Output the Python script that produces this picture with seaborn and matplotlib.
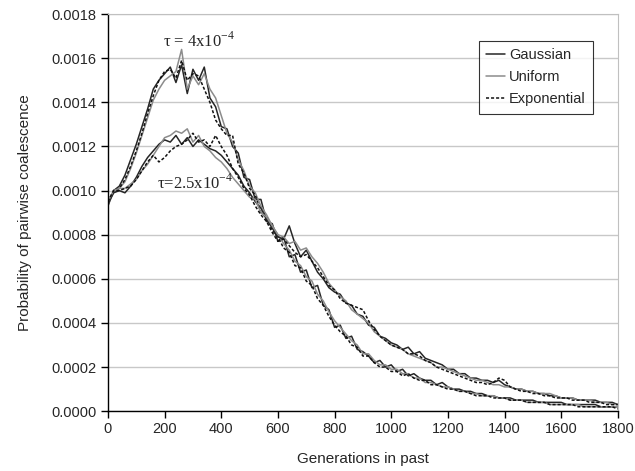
import numpy as np
import pandas as pd
import matplotlib
matplotlib.use('Agg')
import matplotlib.pyplot as plt
import seaborn as sns

# generations sampled every 20, values read in units of 1e-4
GENERATIONS = list(range(0, 1801, 20))

GAUSS_TAU4 = [9.3, 10.0, 10.2, 10.7, 11.4, 12.1, 12.9, 13.7, 14.6, 15.0, 15.3, 15.6, 14.9, 15.7, 14.4, 15.5, 15.0, 15.6, 14.2, 13.8,
              12.9, 12.8, 12.0, 11.7, 10.6, 10.5, 9.6, 9.6, 8.6, 8.5, 7.7, 7.9, 7.0, 7.1, 6.3, 6.4, 5.6, 5.7, 4.8, 4.6,
              3.8, 3.9, 3.3, 3.4, 2.8, 2.7, 2.5, 2.2, 2.3, 2.0, 2.1, 1.8, 1.9, 1.6, 1.7, 1.5, 1.4, 1.4, 1.2, 1.3,
              1.1, 1.0, 1.0, 0.9, 0.9, 0.8, 0.8, 0.7, 0.7, 0.6, 0.6, 0.6, 0.5, 0.5, 0.5, 0.5, 0.4, 0.4, 0.4, 0.4,
              0.4, 0.3, 0.3, 0.3, 0.3, 0.3, 0.3, 0.2, 0.2, 0.2, 0.2]
UNIF_TAU4 = [9.4, 9.9, 10.1, 10.4, 11.0, 11.7, 12.5, 13.3, 14.1, 14.6, 15.0, 15.2, 15.4, 16.4, 14.6, 15.2, 14.8, 15.3, 14.6, 14.2,
             13.4, 12.6, 12.2, 11.4, 10.9, 10.2, 9.9, 9.3, 8.9, 8.4, 8.0, 7.6, 7.3, 6.8, 6.6, 6.1, 5.9, 5.3, 5.0, 4.5,
             4.1, 3.8, 3.5, 3.2, 3.0, 2.6, 2.6, 2.3, 2.1, 2.1, 1.9, 1.9, 1.7, 1.7, 1.5, 1.5, 1.3, 1.3, 1.2, 1.1,
             1.1, 1.0, 0.9, 0.9, 0.8, 0.8, 0.7, 0.7, 0.7, 0.6, 0.6, 0.5, 0.5, 0.5, 0.4, 0.4, 0.4, 0.4, 0.3, 0.3,
             0.3, 0.3, 0.3, 0.3, 0.2, 0.2, 0.2, 0.2, 0.2, 0.2, 0.2]
EXPO_TAU4 = [9.5, 10.0, 10.1, 10.5, 11.1, 11.8, 12.6, 13.5, 14.3, 15.0, 15.4, 15.5, 15.1, 15.9, 15.0, 15.3, 15.2, 14.6, 14.0, 13.2,
             12.8, 12.5, 12.5, 11.2, 10.8, 10.1, 9.8, 9.0, 8.8, 8.2, 7.9, 7.4, 7.2, 6.6, 6.5, 5.9, 5.7, 5.1, 4.8, 4.3,
             3.9, 3.6, 3.4, 3.0, 2.9, 2.5, 2.5, 2.2, 2.0, 2.0, 1.8, 1.8, 1.6, 1.7, 1.5, 1.4, 1.4, 1.2, 1.2, 1.1,
             1.0, 1.0, 0.9, 0.9, 0.8, 0.7, 0.7, 0.7, 0.6, 0.6, 0.6, 0.5, 0.5, 0.5, 0.4, 0.4, 0.4, 0.4, 0.3, 0.3,
             0.3, 0.3, 0.3, 0.2, 0.2, 0.2, 0.2, 0.2, 0.2, 0.2, 0.1]
GAUSS_TAU25 = [9.4, 9.9, 10.0, 9.9, 10.2, 10.6, 11.1, 11.5, 11.8, 12.1, 12.3, 12.2, 12.5, 12.1, 12.4, 12.0, 12.3, 12.1, 11.9, 11.8,
               11.6, 11.3, 11.0, 10.7, 10.2, 9.9, 9.5, 9.2, 8.7, 8.3, 7.9, 7.8, 8.4, 7.6, 7.0, 7.3, 6.8, 6.3, 6.0, 5.6,
               5.4, 5.3, 4.9, 4.8, 4.4, 4.3, 3.9, 3.8, 3.4, 3.3, 3.1, 3.0, 2.8, 2.9, 2.6, 2.7, 2.4, 2.3, 2.2, 2.1,
               1.9, 1.9, 1.7, 1.7, 1.5, 1.5, 1.4, 1.4, 1.3, 1.4, 1.2, 1.1, 1.0, 1.0, 0.9, 0.9, 0.8, 0.8, 0.7, 0.7,
               0.6, 0.6, 0.6, 0.5, 0.5, 0.5, 0.5, 0.4, 0.4, 0.4, 0.3]
UNIF_TAU25 = [9.5, 10.0, 10.1, 10.1, 10.3, 10.5, 10.9, 11.2, 11.6, 12.0, 12.4, 12.5, 12.7, 12.6, 12.8, 12.2, 12.5, 12.0, 11.8, 11.5,
              11.3, 11.0, 10.6, 10.3, 10.0, 9.7, 9.6, 9.0, 8.8, 8.4, 8.0, 7.9, 7.6, 7.7, 7.3, 7.4, 7.0, 6.7, 6.3, 5.8,
              5.5, 5.2, 5.0, 4.6, 4.4, 4.2, 4.0, 3.6, 3.4, 3.2, 3.0, 2.9, 2.8, 2.6, 2.5, 2.4, 2.3, 2.2, 2.0, 2.0,
              1.9, 1.8, 1.7, 1.6, 1.5, 1.4, 1.4, 1.3, 1.2, 1.2, 1.1, 1.1, 1.0, 1.0, 0.9, 0.9, 0.8, 0.8, 0.8, 0.7,
              0.6, 0.6, 0.6, 0.5, 0.5, 0.5, 0.4, 0.4, 0.4, 0.3, 0.3]
EXPO_TAU25 = [9.5, 10.0, 10.0, 10.1, 10.2, 10.5, 10.9, 11.3, 11.6, 11.3, 11.5, 11.8, 12.0, 12.1, 12.3, 12.6, 12.2, 12.3, 12.0, 12.5,
              12.0, 11.6, 11.0, 10.6, 10.1, 9.8, 9.3, 8.9, 8.6, 8.1, 7.7, 7.8, 7.5, 7.2, 7.0, 7.1, 6.8, 6.5, 6.1, 5.7,
              5.5, 5.1, 4.9, 4.8, 4.7, 4.6, 4.1, 3.7, 3.4, 3.2, 3.0, 2.9, 2.8, 2.6, 2.6, 2.5, 2.3, 2.2, 2.0, 1.9,
              1.8, 1.7, 1.6, 1.5, 1.4, 1.3, 1.3, 1.2, 1.3, 1.5, 1.4, 1.1, 1.0, 0.9, 0.9, 0.8, 0.8, 0.7, 0.7, 0.6,
              0.6, 0.6, 0.5, 0.5, 0.5, 0.4, 0.4, 0.4, 0.3, 0.3, 0.3]

DIST_STYLE = {
    'Gaussian': {'color': '#262626', 'linestyle': '-'},
    'Uniform': {'color': '#8c8c8c', 'linestyle': '-'},
    'Exponential': {'color': '#111111', 'linestyle': (0, (2, 1.3))},
}

SERIES = [
    ('Gaussian', 'tau4', GAUSS_TAU4), ('Uniform', 'tau4', UNIF_TAU4), ('Exponential', 'tau4', EXPO_TAU4),
    ('Gaussian', 'tau25', GAUSS_TAU25), ('Uniform', 'tau25', UNIF_TAU25), ('Exponential', 'tau25', EXPO_TAU25),
]

sns.set_style('white')
plt.rcParams['font.family'] = ['Liberation Sans', 'DejaVu Sans']
plt.rcParams['mathtext.fontset'] = 'custom'
plt.rcParams['mathtext.rm'] = 'Liberation Serif'

fig = plt.figure(figsize=(6.35, 4.71), dpi=100)
ax = fig.add_axes([0.170, 0.127, 0.803, 0.843])

for dist, tau, vals in SERIES:
    df = pd.DataFrame({'gen': GENERATIONS, 'p': np.array(vals) * 1e-4})
    st = DIST_STYLE[dist]
    sns.lineplot(data=df, x='gen', y='p', ax=ax, color=st['color'], linestyle=st['linestyle'],
                 linewidth=1.1, label=dist if tau == 'tau4' else None, legend=False)

ax.set_xlim(0, 1800)
ax.set_ylim(0, 0.0018)
ax.set_xticks(range(0, 1801, 200))
ax.set_yticks(np.arange(0, 0.00181, 0.0002))
ax.set_yticklabels([f'{v:.4f}' for v in np.arange(0, 0.00181, 0.0002)])
ax.yaxis.grid(True, color='#c8c8c8', linewidth=1.0)
ax.set_axisbelow(True)

for s in ['top', 'right']:
    ax.spines[s].set_color('#c0c0c0')
for s in ['left', 'bottom']:
    ax.spines[s].set_color('black')
    ax.spines[s].set_linewidth(1.0)
ax.tick_params(axis='both', direction='out', length=5, width=1, color='black', labelsize=10.5, pad=3, left=True, bottom=True)

ax.set_xlabel('Generations in past', fontsize=11, labelpad=11)
ax.set_ylabel('Probability of pairwise coalescence', fontsize=11, labelpad=14)

ax.text(321, 0.00168, r'τ = 4x10$^{-4}$', family='Liberation Serif', fontsize=12, ha='center', va='center')
ax.text(307, 0.001035, r'τ=2.5x10$^{-4}$', family='Liberation Serif', fontsize=12, ha='center', va='center')

handles, labels = ax.get_legend_handles_labels()
leg = ax.legend(handles, labels, loc='upper right', bbox_to_anchor=(0.951, 0.932), fontsize=10.5,
                frameon=True, fancybox=False, edgecolor='black', handlelength=1.3, handletextpad=0.25,
                borderpad=0.5, labelspacing=0.55, borderaxespad=0)
leg.get_frame().set_linewidth(0.8)

fig.savefig('out.png', dpi=100)
